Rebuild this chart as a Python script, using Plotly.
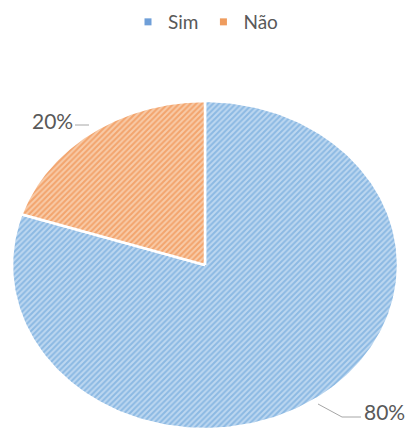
import numpy as np
import plotly.graph_objects as go

# Survey answers
categories = ["Sim", "Não"]
values = [80, 20]

fills = {"Sim": ("#5b9bd5", "#bdd7f0"), "Não": ("#ed7d31", "#f8cba8")}
swatch = {"Sim": "#6f9fd8", "Não": "#ef9c5e"}
text_color = "#595959"
font_family = "Lato, Calibri, Arial, sans-serif"

W, H = 407, 434
# pixel geometry of the (horizontally stretched) pie
cx, cy, rx, ry = 205, 265, 193, 164

total = float(sum(values))
fig = go.Figure()

start = 90.0  # first slice starts at 12 o'clock, drawn clockwise
for cat, val in zip(categories, values):
    sweep = 360.0 * val / total
    theta = np.radians(np.linspace(start, start - sweep, 240))
    xs = np.concatenate([[0.0], np.cos(theta), [0.0]])
    ys = np.concatenate([[0.0], np.sin(theta), [0.0]])
    fg, bg = fills[cat]
    fig.add_trace(go.Scatter(
        x=xs, y=ys, mode="lines", fill="toself",
        line=dict(color="white", width=2.5),
        fillcolor=bg,
        fillpattern=dict(shape="/", fgcolor=fg, bgcolor=bg, size=4, solidity=0.5),
        showlegend=False, hoverinfo="skip", name=cat,
    ))
    start -= sweep

# legend entries with square swatches
for cat in categories:
    fig.add_trace(go.Scatter(
        x=[None], y=[None], mode="markers", name=cat,
        marker=dict(symbol="square", size=7, color=swatch[cat]),
    ))

def px2x(px):
    return (px - cx) / rx

def py2y(py):
    return (cy - py) / ry

# percentage labels with leader lines
pct = [f"{round(100 * v / total)}%" for v in values]
label_pos = {"Sim": (384, 411), "Não": (52, 120)}
leaders = {
    "Sim": [(318, 404), (342, 417), (361, 417)],
    "Não": [(75, 125), (89, 125)],
}
for cat, txt in zip(categories, pct):
    lx, ly = label_pos[cat]
    fig.add_annotation(x=px2x(lx), y=py2y(ly), text=txt, showarrow=False,
                       font=dict(size=21, color=text_color, family=font_family))
    pts = leaders[cat]
    for (x0, y0), (x1, y1) in zip(pts[:-1], pts[1:]):
        fig.add_shape(type="line", x0=px2x(x0), y0=py2y(y0), x1=px2x(x1), y1=py2y(y1),
                      line=dict(color="#a6a6a6", width=1))

fig.update_layout(
    width=W, height=H, autosize=False,
    margin=dict(l=0, r=0, t=0, b=0),
    paper_bgcolor="white", plot_bgcolor="white",
    xaxis=dict(range=[px2x(0), px2x(W)], visible=False, fixedrange=True),
    yaxis=dict(range=[py2y(H), py2y(0)], visible=False, fixedrange=True),
    legend=dict(orientation="h", x=128 / W, xanchor="left", y=1 - 3 / H, yref="paper",
                yanchor="top", font=dict(size=19, color=text_color, family=font_family),
                itemwidth=30, tracegroupgap=0, bgcolor="rgba(0,0,0,0)"),
    showlegend=True,
)

fig.write_html("out.html")
